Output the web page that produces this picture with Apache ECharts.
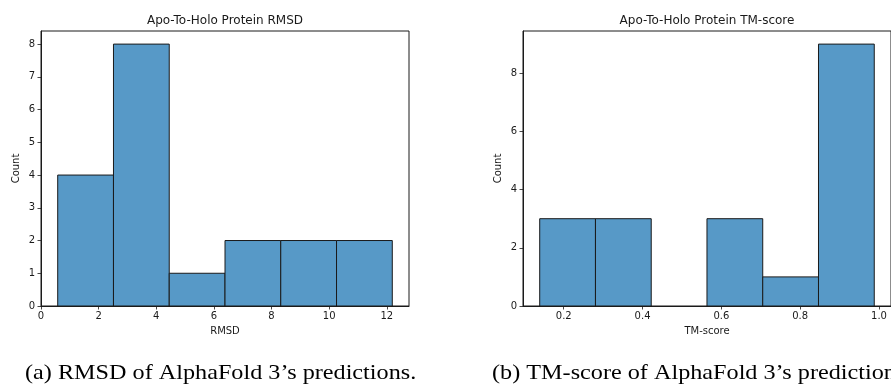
<!DOCTYPE html>
<html>
<head>
<meta charset="utf-8">
<script src="https://cdn.jsdelivr.net/npm/echarts@6/dist/echarts.min.js"></script>
<style>
  html, body { margin: 0; padding: 0; background: #fff; }
  #chart { width: 891px; height: 386px; }
</style>
</head>
<body>
<div id="chart"></div>
<script>
// RMSD histogram: bin edges and counts per bin
const rmsdEdges = [0.58, 2.515, 4.45, 6.385, 8.32, 10.255, 12.19];
const rmsdCounts = [4, 8, 1, 2, 2, 2];
const rmsdXTicks = [0, 2, 4, 6, 8, 10, 12];
const rmsdYTicks = [0, 1, 2, 3, 4, 5, 6, 7, 8];

// TM-score histogram: bin edges and counts per bin
const tmEdges = [0.139, 0.2805, 0.422, 0.5635, 0.705, 0.8465, 0.988];
const tmCounts = [3, 3, 0, 3, 1, 9];
const tmXTicks = [0.2, 0.4, 0.6, 0.8, 1.0];
const tmYTicks = [0, 2, 4, 6, 8];

const titles = ['Apo-To-Holo Protein RMSD', 'Apo-To-Holo Protein TM-score'];
const xNames = ['RMSD', 'TM-score'];
const captions = ['(a) RMSD of AlphaFold 3\u2019s predictions.', '(b) TM-score of AlphaFold 3\u2019s predictions.'];

const FONT = 'DejaVu Sans';
const INK = '#1a1a1a';
const FILL = '#5799c7';

function bins(edges, counts) {
  return counts.map((c, i) => [edges[i], edges[i + 1], c]);
}

// Each bin is a rectangle from its left edge to its right edge, height = count
function renderBin(params, api) {
  const x0 = api.value(0), x1 = api.value(1), c = api.value(2);
  if (c <= 0) return null;
  const top = api.coord([x0, c]);
  const base = api.coord([x1, 0]);
  return {
    type: 'rect',
    shape: { x: top[0], y: top[1], width: base[0] - top[0], height: base[1] - top[1] },
    style: { fill: FILL, stroke: INK, lineWidth: 1 }
  };
}

const GRID_TOP = 31, GRID_H = 275;
const gridLefts = [41, 523];
const gridWidths = [368, 369];

function xAxisCfg(idx, min, max, ticks, fmt) {
  return {
    type: 'value', gridIndex: idx, min: min, max: max,
    name: xNames[idx], nameLocation: 'middle', nameGap: 20,
    nameTextStyle: { fontFamily: FONT, fontSize: 10, color: INK },
    axisLine: { show: true, lineStyle: { color: INK, width: 1 } },
    axisTick: { show: true, inside: false, length: 3.5, customValues: ticks, lineStyle: { color: INK, width: 0.8 } },
    axisLabel: { show: true, margin: 5, customValues: ticks, fontFamily: FONT, fontSize: 10, color: INK, formatter: fmt },
    splitLine: { show: false }
  };
}

function yAxisCfg(idx, max, ticks) {
  return {
    type: 'value', gridIndex: idx, min: 0, max: max,
    name: 'Count', nameLocation: 'middle', nameGap: 20,
    nameTextStyle: { fontFamily: FONT, fontSize: 10, color: INK },
    axisLine: { show: true, lineStyle: { color: INK, width: 1 } },
    axisTick: { show: true, inside: false, length: 3.5, customValues: ticks, lineStyle: { color: INK, width: 0.8 } },
    axisLabel: { show: true, margin: 6, customValues: ticks, fontFamily: FONT, fontSize: 10, color: INK },
    splitLine: { show: false }
  };
}

const chart = echarts.init(document.getElementById('chart'), null, { renderer: 'canvas' });

const graphics = [];
titles.forEach((t, i) => {
  graphics.push({
    type: 'text', x: gridLefts[i] + 184, y: 20.5,
    style: { text: t, font: '12px "DejaVu Sans"', fill: INK, align: 'center', verticalAlign: 'middle' }
  });
});
// Sub-figure captions, set in a slightly wide serif
const capX = [25, 492];
captions.forEach((t, i) => {
  graphics.push({
    type: 'text', x: capX[i], y: 373, scaleX: 1.1, scaleY: 1,
    style: { text: t, font: '22px "Liberation Serif"', fill: '#000', align: 'left', verticalAlign: 'middle' }
  });
});

chart.setOption({
  animation: false,
  backgroundColor: '#fff',
  grid: gridLefts.map((l, i) => ({
    left: l, top: GRID_TOP, width: gridWidths[i], height: GRID_H,
    show: true, borderColor: INK, borderWidth: 1, backgroundColor: 'transparent', containLabel: false
  })),
  xAxis: [
    xAxisCfg(0, 0, 12.77, rmsdXTicks, v => String(v)),
    xAxisCfg(1, 0.0966, 1.0305, tmXTicks, v => Number(v).toFixed(1))
  ],
  yAxis: [
    yAxisCfg(0, 8.4, rmsdYTicks),
    yAxisCfg(1, 9.45, tmYTicks)
  ],
  series: [
    { type: 'custom', xAxisIndex: 0, yAxisIndex: 0, renderItem: renderBin, encode: { x: [0, 1], y: 2 }, data: bins(rmsdEdges, rmsdCounts) },
    { type: 'custom', xAxisIndex: 1, yAxisIndex: 1, renderItem: renderBin, encode: { x: [0, 1], y: 2 }, data: bins(tmEdges, tmCounts) }
  ],
  graphic: graphics
});
</script>
</body>
</html>
